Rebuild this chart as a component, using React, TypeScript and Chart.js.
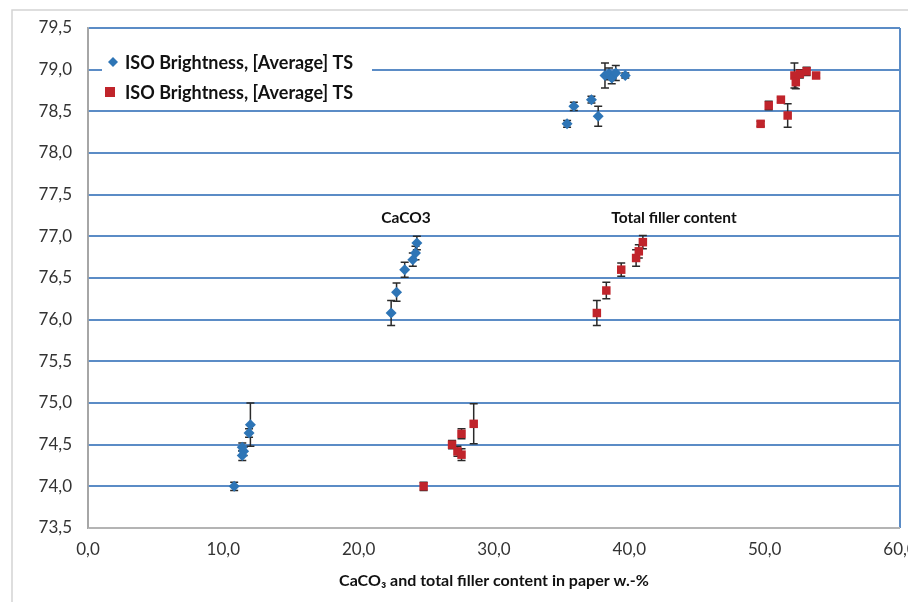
import React, { useEffect, useRef } from "react";
import { Chart, registerables } from "chart.js";

Chart.register(...registerables);

// CaCO3 content (w.-%) vs ISO brightness
const caco3X = [10.8, 11.4, 11.5, 11.4, 11.9, 12.0, 22.4, 22.8, 23.4, 24.0, 24.2, 24.3, 35.4, 35.9, 37.2, 37.7, 38.2, 38.5, 38.7, 39.0, 39.7];
const caco3Y = [74.0, 74.47, 74.42, 74.37, 74.64, 74.74, 76.08, 76.33, 76.6, 76.72, 76.8, 76.92, 78.35, 78.56, 78.64, 78.44, 78.93, 78.95, 78.9, 78.96, 78.93];
const caco3Err = [0.05, 0.05, 0.05, 0.06, 0.05, 0.26, 0.15, 0.11, 0.09, 0.08, 0.08, 0.08, 0.04, 0.05, 0.04, 0.12, 0.15, 0.07, 0.07, 0.09, 0.03];

// Total filler content (w.-%) vs ISO brightness
const fillerX = [24.8, 26.9, 27.3, 27.6, 27.6, 28.5, 37.6, 38.3, 39.4, 40.5, 40.7, 41.0, 49.7, 50.3, 51.2, 51.7, 52.2, 52.3, 52.6, 53.1, 53.8];
const fillerY = [74.0, 74.5, 74.42, 74.38, 74.63, 74.75, 76.08, 76.35, 76.6, 76.74, 76.82, 76.93, 78.35, 78.57, 78.64, 78.45, 78.93, 78.85, 78.95, 78.98, 78.93];
const fillerErr = [0.05, 0.05, 0.06, 0.07, 0.06, 0.24, 0.15, 0.1, 0.08, 0.1, 0.08, 0.08, 0.03, 0.05, 0.03, 0.14, 0.15, 0.08, 0.05, 0.05, 0.03];

const seriesLabels = ["ISO Brightness, [Average] TS", "ISO Brightness, [Average] TS"];
const noteLabels = ["CaCO3", "Total filler content"];
const noteX = [23.5, 43.3];
const noteY = [77.22, 77.22];

const xTitle = "CaCO\u2083 and total filler content in paper w.-%";

const BLUE = "#2e75b6";
const RED = "#c0242b";
const GRID = "#5b8cc6";
const FONT = "Lato, 'Open Sans', sans-serif";

const fmt = (v: number) => v.toFixed(1).replace(".", ",");

const errorBarPlugin = {
  id: "errorBars",
  beforeDatasetsDraw(chart: any) {
    const { ctx, scales } = chart;
    const x = scales.x;
    const y = scales.y;
    const sets = [
      [caco3X, caco3Y, caco3Err],
      [fillerX, fillerY, fillerErr],
    ];
    ctx.save();
    ctx.strokeStyle = "#2a2a2a";
    ctx.lineWidth = 1.5;
    sets.forEach(([xs, ys, es]) => {
      xs.forEach((xv: number, i: number) => {
        const px = x.getPixelForValue(xv);
        const top = y.getPixelForValue(ys[i] + es[i]);
        const bot = y.getPixelForValue(ys[i] - es[i]);
        ctx.beginPath();
        ctx.moveTo(px, top);
        ctx.lineTo(px, bot);
        ctx.moveTo(px - 4, top);
        ctx.lineTo(px + 4, top);
        ctx.moveTo(px - 4, bot);
        ctx.lineTo(px + 4, bot);
        ctx.stroke();
      });
    });
    ctx.restore();
  },
};

const decorPlugin = {
  id: "decor",
  beforeDraw(chart: any) {
    const { ctx } = chart;
    ctx.save();
    ctx.strokeStyle = "#d4d4d4";
    ctx.lineWidth = 1.5;
    ctx.beginPath();
    ctx.moveTo(4, chart.height + 2);
    ctx.lineTo(4, 2);
    ctx.lineTo(chart.width + 2, 2);
    ctx.stroke();
    ctx.restore();
  },
  afterDraw(chart: any) {
    const { ctx, chartArea, scales } = chart;
    const x = scales.x;
    const y = scales.y;
    ctx.save();
    // notes on the clusters
    ctx.fillStyle = "#111";
    ctx.font = `bold 15.5px ${FONT}`;
    ctx.textAlign = "center";
    ctx.textBaseline = "middle";
    noteLabels.forEach((t, i) => {
      ctx.fillText(t, x.getPixelForValue(noteX[i]), y.getPixelForValue(noteY[i]));
    });

    // legend inside the plot area
    const lx = chartArea.left;
    const ly = chartArea.top;
    ctx.fillStyle = "#ffffff";
    ctx.fillRect(lx + 14, ly + 17, 270, 62);
    ctx.font = `bold 18px ${FONT}`;
    ctx.textAlign = "left";
    ctx.textBaseline = "middle";
    // diamond
    const d1x = lx + 25;
    const d1y = ly + 34;
    ctx.fillStyle = BLUE;
    ctx.beginPath();
    ctx.moveTo(d1x, d1y - 5);
    ctx.lineTo(d1x + 5, d1y);
    ctx.lineTo(d1x, d1y + 5);
    ctx.lineTo(d1x - 5, d1y);
    ctx.closePath();
    ctx.fill();
    ctx.fillStyle = "#111";
    ctx.fillText(seriesLabels[0], lx + 37, d1y + 1);
    // square
    const d2x = lx + 22;
    const d2y = ly + 64;
    ctx.fillStyle = RED;
    ctx.fillRect(d2x - 5, d2y - 5, 10, 10);
    ctx.fillStyle = "#111";
    ctx.fillText(seriesLabels[1], lx + 37, d2y + 1);
    ctx.restore();
  },
};

export default function App() {
  const ref = useRef<HTMLCanvasElement | null>(null);

  useEffect(() => {
    if (!ref.current) return;
    const chart = new Chart(ref.current, {
      type: "scatter",
      data: {
        datasets: [
          {
            label: seriesLabels[0],
            data: caco3X.map((v, i) => ({ x: v, y: caco3Y[i] })),
            pointStyle: "rectRot",
            pointRadius: 5.5,
            backgroundColor: BLUE,
            borderColor: BLUE,
            borderWidth: 0,
          },
          {
            label: seriesLabels[1],
            data: fillerX.map((v, i) => ({ x: v, y: fillerY[i] })),
            pointStyle: "rect",
            pointRadius: 6,
            backgroundColor: RED,
            borderColor: RED,
            borderWidth: 0,
          },
        ],
      },
      options: {
        responsive: false,
        animation: false,
        layout: { padding: { left: 0, right: 16, top: 20, bottom: 0 } },
        plugins: {
          legend: { display: false },
          tooltip: { enabled: false },
        },
        scales: {
          x: {
            type: "linear",
            min: 0,
            max: 60,
            afterFit(scale: any) {
              scale.height = 74;
              scale.paddingLeft = 0;
              scale.paddingRight = 0;
            },
            ticks: {
              stepSize: 10,
              padding: 11,
              color: "#333",
              font: { family: FONT, size: 17 },
              callback: (v: any) => fmt(Number(v)),
            },
            grid: {
              drawTicks: false,
              lineWidth: 2,
              color: (c: any) =>
                c.tick && c.tick.value === 60 ? GRID : c.tick && c.tick.value === 0 ? "#a6a6a6" : "rgba(0,0,0,0)",
            },
            border: { display: false },
            title: {
              display: true,
              text: xTitle,
              color: "#111",
              font: { family: FONT, size: 16, weight: "bold" },
              padding: { top: 4, bottom: 12 },
            },
          },
          y: {
            type: "linear",
            min: 73.5,
            max: 79.5,
            afterFit(scale: any) {
              scale.width = 80;
              scale.paddingTop = 0;
              scale.paddingBottom = 0;
            },
            ticks: {
              stepSize: 0.5,
              padding: 16,
              color: "#333",
              font: { family: FONT, size: 17 },
              callback: (v: any) => fmt(Number(v)),
            },
            grid: {
              drawTicks: false,
              lineWidth: 2,
              color: (c: any) => (c.tick && c.tick.value === 73.5 ? "#b4b4b4" : GRID),
            },
            border: { display: true, color: "#a6a6a6", width: 1.5 },
          },
        },
      },
      plugins: [errorBarPlugin, decorPlugin],
    });
    return () => chart.destroy();
  }, []);

  return <canvas ref={ref} width={908} height={594} style={{ display: "block" }} />;
}
